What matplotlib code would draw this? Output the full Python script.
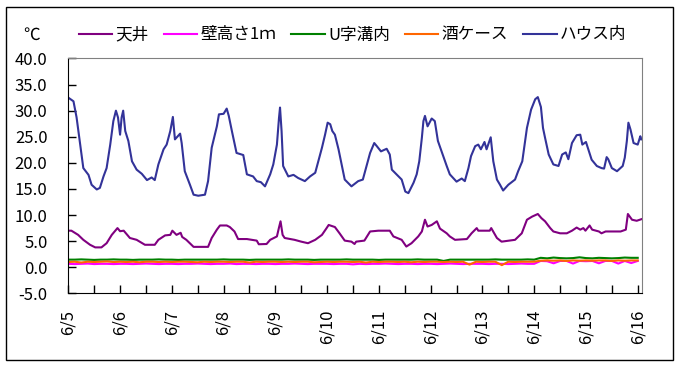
import numpy as np
import matplotlib.pyplot as plt
from matplotlib.patches import Rectangle

plt.rcParams['font.family'] = ['Noto Sans CJK JP', 'DejaVu Sans']

# x values are days since 6/5 00:00
day_labels = ['6/5', '6/6', '6/7', '6/8', '6/9', '6/10',
              '6/11', '6/12', '6/13', '6/14', '6/15', '6/16']

names = ['天井', '壁高さ1ｍ', 'U字溝内', '酒ケース', 'ハウス内']
colors = ['#800080', '#ff00ff', '#008000', '#ff6600', '#333399']

# ハウス内
t_house = [0.00, 0.10, 0.16, 0.23, 0.29, 0.39, 0.45, 0.55, 0.61, 0.68, 0.74, 0.81,
           0.87, 0.92, 0.96, 1.00, 1.03, 1.06, 1.10, 1.16, 1.23, 1.32, 1.42, 1.52,
           1.61, 1.67, 1.74, 1.84, 1.90, 1.97, 2.02, 2.06, 2.16, 2.19, 2.25, 2.35,
           2.42, 2.51, 2.64, 2.70, 2.77, 2.87, 2.91, 3.00, 3.06, 3.10, 3.16, 3.25,
           3.38, 3.45, 3.57, 3.64, 3.72, 3.80, 3.90, 3.96, 4.03, 4.07, 4.09, 4.12,
           4.15, 4.25, 4.35, 4.44, 4.57, 4.67, 4.77, 4.83, 4.90, 4.96, 5.01, 5.06,
           5.10, 5.15, 5.22, 5.28, 5.34, 5.47, 5.60, 5.69, 5.77, 5.83, 5.91, 5.96,
           6.04, 6.15, 6.21, 6.25, 6.34, 6.44, 6.51, 6.57, 6.67, 6.73, 6.78, 6.83,
           6.86, 6.89, 6.94, 7.02, 7.08, 7.14, 7.21, 7.31, 7.37, 7.50, 7.60, 7.66,
           7.73, 7.78, 7.86, 7.92, 7.97, 8.04, 8.08, 8.16, 8.21, 8.28, 8.34, 8.40,
           8.50, 8.63, 8.69, 8.77, 8.86, 8.94, 9.02, 9.07, 9.13, 9.17, 9.21, 9.28,
           9.37, 9.47, 9.54, 9.61, 9.66, 9.73, 9.82, 9.89, 9.93, 10.00, 10.11, 10.21,
           10.30, 10.35, 10.40, 10.43, 10.50, 10.60, 10.71, 10.75, 10.79, 10.82, 10.86,
           10.92, 11.00, 11.05, 11.07]
v_house = [32.5, 31.8, 28.7, 23.5, 19.0, 17.7, 15.8, 14.9, 15.2, 17.4, 19.0, 23.5,
           28.0, 30.0, 28.7, 25.4, 28.7, 30.0, 26.1, 24.2, 20.3, 18.7, 17.9, 16.7,
           17.2, 16.7, 19.7, 22.6, 23.5, 26.1, 28.8, 24.5, 25.6, 23.8, 18.4, 15.8,
           13.9, 13.7, 13.9, 16.5, 22.9, 27.0, 29.3, 29.4, 30.4, 29.0, 26.1, 21.9,
           21.5, 17.8, 17.4, 16.5, 16.3, 15.5, 17.8, 19.7, 23.5, 28.6, 30.6, 26.1,
           19.4, 17.4, 17.7, 17.1, 16.5, 17.4, 18.1, 20.3, 22.9, 25.4, 27.7, 27.4,
           26.1, 25.4, 22.6, 19.7, 16.8, 15.5, 16.5, 16.8, 19.7, 21.9, 23.8, 23.2,
           22.2, 22.7, 21.6, 18.7, 17.8, 16.8, 14.5, 14.2, 16.2, 17.8, 20.3, 24.8,
           28.0, 29.0, 27.0, 28.5, 28.0, 24.2, 22.2, 19.4, 17.8, 16.4, 17.0, 16.5,
           19.0, 21.3, 23.2, 23.5, 22.6, 24.0, 22.6, 24.9, 20.3, 16.8, 15.8, 14.7,
           15.8, 16.8, 18.4, 20.3, 26.7, 30.2, 32.2, 32.6, 30.7, 26.7, 24.8, 21.6,
           19.7, 19.4, 21.6, 22.0, 20.7, 23.8, 25.3, 25.4, 23.5, 24.0, 20.6, 19.4,
           19.0, 18.9, 21.1, 20.7, 19.0, 18.4, 19.4, 21.0, 24.2, 27.7, 26.4,
           23.8, 23.5, 25.1, 24.5]

# 天井
t_ceiling = [0.00, 0.06, 0.19, 0.29, 0.42, 0.52, 0.64, 0.74, 0.84, 0.95, 1.00, 1.07,
             1.19, 1.32, 1.48, 1.67, 1.74, 1.87, 1.97, 2.01, 2.09, 2.17, 2.20, 2.28,
             2.42, 2.70, 2.77, 2.87, 2.93, 3.06, 3.12, 3.21, 3.28, 3.45, 3.64, 3.68,
             3.83, 3.90, 4.03, 4.07, 4.10, 4.14, 4.18, 4.37, 4.50, 4.63, 4.77, 4.90,
             4.99, 5.03, 5.15, 5.24, 5.34, 5.47, 5.53, 5.56, 5.72, 5.83, 5.99, 6.21,
             6.28, 6.44, 6.53, 6.63, 6.76, 6.83, 6.89, 6.94, 7.02, 7.12, 7.18, 7.31,
             7.37, 7.47, 7.70, 7.79, 7.89, 7.92, 8.14, 8.17, 8.28, 8.37, 8.63, 8.76,
             8.86, 8.96, 9.07, 9.14, 9.21, 9.31, 9.37, 9.50, 9.63, 9.73, 9.82, 9.89,
             9.95, 9.99, 10.07, 10.12, 10.25, 10.30, 10.38, 10.67, 10.77, 10.81, 10.89,
             10.98, 11.07]
v_ceiling = [7.0, 7.0, 6.2, 5.25, 4.3, 3.8, 3.8, 4.6, 6.2, 7.5, 6.9, 7.0,
             5.6, 5.25, 4.3, 4.3, 5.25, 6.1, 6.2, 7.0, 6.2, 6.6, 5.8, 5.25,
             3.9, 3.9, 5.6, 7.2, 8.0, 8.0, 7.7, 6.85, 5.4, 5.4, 5.1, 4.4,
             4.45, 5.25, 5.9, 7.6, 8.8, 6.2, 5.6, 5.25, 4.9, 4.6, 5.25, 6.2,
             7.5, 8.1, 7.7, 6.5, 5.1, 4.9, 4.45, 4.9, 5.1, 6.85, 7.0, 7.0,
             5.9, 5.25, 3.96, 4.6, 5.9, 6.85, 9.1, 7.8, 8.1, 8.8, 7.4, 6.5,
             5.9, 5.25, 5.4, 6.5, 7.5, 7.0, 7.0, 7.5, 5.6, 4.9, 5.25, 6.5,
             9.1, 9.7, 10.2, 9.4, 8.8, 7.5, 6.85, 6.5, 6.5, 7.0, 7.6, 7.2,
             7.5, 7.0, 8.0, 7.2, 6.85, 6.5, 6.85, 6.85, 7.2, 10.2, 9.1,
             8.9, 9.2]

# the three low series, one value every 3 hours
t_low = np.arange(89) / 8
v_wall = [0.65, 0.6, 0.65, 0.7, 0.6, 0.65, 0.65, 0.6,
          0.65, 0.65, 0.6, 0.65, 0.7, 0.65, 0.6, 0.65,
          0.65, 0.6, 0.65, 0.65, 0.7, 0.65, 0.6, 0.65,
          0.65, 0.7, 0.6, 0.65, 0.65, 0.6, 0.65, 0.65,
          0.6, 0.65, 0.65, 0.7, 0.65, 0.6, 0.65, 0.65,
          0.65, 0.6, 0.65, 0.65, 0.55, 0.65, 0.6, 0.65,
          0.65, 0.7, 0.65, 0.6, 0.65, 0.65, 0.6, 0.65,
          0.65, 0.6, 0.65, 0.7, 0.65, 0.6, 0.65, 0.65,
          0.65, 0.6, 0.65, 0.65, 0.6, 0.65, 0.7, 0.65,
          0.65, 1.2, 1.15, 0.75, 1.2, 1.2, 0.7, 1.2,
          1.15, 1.2, 0.75, 1.2, 1.2, 0.7, 1.2, 0.8, 1.2]
v_ditch = [1.45, 1.45, 1.5, 1.45, 1.4, 1.45, 1.45, 1.5,
           1.45, 1.45, 1.4, 1.45, 1.45, 1.45, 1.5, 1.45,
           1.45, 1.4, 1.45, 1.45, 1.45, 1.45, 1.45, 1.45,
           1.5, 1.45, 1.45, 1.45, 1.4, 1.45, 1.45, 1.45,
           1.45, 1.45, 1.5, 1.45, 1.45, 1.45, 1.4, 1.45,
           1.45, 1.45, 1.45, 1.5, 1.45, 1.45, 1.45, 1.45,
           1.4, 1.45, 1.45, 1.45, 1.45, 1.45, 1.5, 1.45,
           1.45, 1.45, 1.2, 1.45, 1.45, 1.45, 1.45, 1.45,
           1.45, 1.45, 1.5, 1.45, 1.45, 1.45, 1.45, 1.5,
           1.45, 1.8, 1.7, 1.85, 1.75, 1.7, 1.75, 1.9,
           1.75, 1.7, 1.8, 1.75, 1.7, 1.75, 1.85, 1.8, 1.8]
v_sake = [1.0, 1.05, 0.9, 1.05, 1.0, 1.05, 1.1, 1.0,
          1.05, 1.0, 1.05, 0.95, 1.05, 1.05, 1.0, 1.05,
          1.0, 1.05, 1.05, 1.0, 0.95, 1.05, 1.0, 1.05,
          1.05, 1.0, 1.05, 1.05, 0.9, 1.05, 1.0, 1.05,
          1.05, 1.0, 1.05, 1.0, 1.05, 1.05, 0.95, 1.0,
          1.05, 1.0, 1.05, 1.05, 1.0, 1.05, 0.9, 1.05,
          1.0, 1.05, 1.05, 1.0, 1.05, 0.95, 1.05, 1.0,
          1.05, 1.05, 1.0, 1.05, 1.0, 1.05, 0.5, 1.05,
          1.0, 1.05, 1.05, 0.4, 1.05, 1.0, 1.05, 1.05,
          1.05, 1.25, 1.3, 1.25, 1.3, 1.2, 1.3, 1.25,
          1.3, 1.25, 1.3, 1.3, 1.2, 1.3, 1.25, 1.3, 1.3]

fig = plt.figure(figsize=(6.81, 3.67), dpi=100)
ax = fig.add_axes([0.1003, 0.2008, 0.842, 0.6398])

xs = [t_ceiling, t_low, t_low, t_low, t_house]
ys = [v_ceiling, v_wall, v_ditch, v_sake, v_house]
lines = []
for x, y, c, n in zip(xs, ys, colors, names):
    ln, = ax.plot(x, y, color=c, lw=1.5, label=n)
    lines.append(ln)

ax.set_xlim(0, 11.077)
ax.set_ylim(-5, 40)
ax.set_yticks(np.arange(-5, 41, 5))
ax.set_yticklabels([f'{v:.1f}' for v in np.arange(-5, 41, 5)])
ax.set_xticks(range(len(day_labels)))
ax.set_xticklabels(day_labels, rotation=90)
ax.set_xticks(np.arange(0.5, 11, 1.0), minor=True)
ax.tick_params(axis='both', which='both', direction='in', length=6, width=1,
               labelsize=12, color='black')
ax.tick_params(axis='x', pad=12)
ax.tick_params(axis='y', pad=15)

for s in ['top', 'right']:
    ax.spines[s].set_color('#808080')
for s in ['left', 'bottom']:
    ax.spines[s].set_color('black')

fig.legend(lines, names, loc='center left', bbox_to_anchor=(79 / 681, 1 - 35 / 367),
           ncol=5, frameon=False, fontsize=12, handlelength=2.0, handletextpad=0.2,
           columnspacing=0.9, borderpad=0, borderaxespad=0)
fig.text(23 / 681, 1 - 35 / 367, '℃', va='center', ha='left', fontsize=12)

fig.add_artist(Rectangle((6 / 681, 1 - 360 / 367), 667 / 681, 353 / 367,
                         transform=fig.transFigure, fill=False,
                         edgecolor='black', lw=1))

fig.savefig('out.png', dpi=100)
